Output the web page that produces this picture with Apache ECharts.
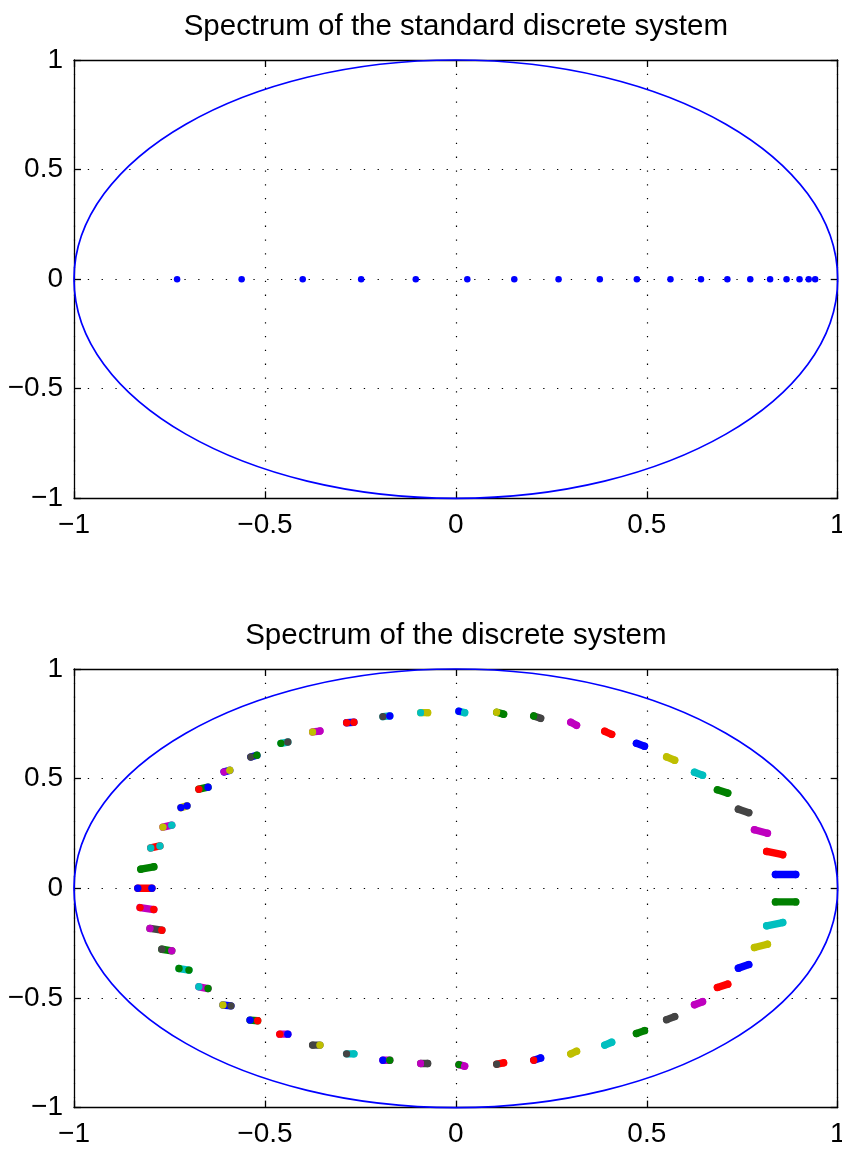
<!DOCTYPE html>
<html>
<head>
<meta charset="utf-8">
<title>Spectrum</title>
<script src="https://cdn.jsdelivr.net/npm/echarts@6.0.0/dist/echarts.min.js"></script>
<style>
    html, body {margin: 0; padding: 0; background: #fff;}
    #chart {width: 842px; height: 1150px;}
</style>
</head>
<body>
<div id="chart"></div>
<script>
//标准离散系统的特征值（全部为实数）
var standardRe = [-0.730, -0.561, -0.401, -0.248, -0.105, 0.030, 0.153, 0.269, 0.377, 0.474,
    0.562, 0.642, 0.711, 0.771, 0.823, 0.866, 0.900, 0.924, 0.941];
var standardIm = [0, 0, 0, 0, 0, 0, 0, 0, 0, 0, 0, 0, 0, 0, 0, 0, 0, 0, 0];

//离散系统：每一簇特征值的左端、右端
var clusterReStart = [-0.833, -0.825, -0.799, -0.767, -0.720, -0.673, -0.607, -0.537, -0.458, -0.375,
    -0.286, -0.191, -0.092, 0.008, 0.107, 0.204, 0.301, 0.390, 0.473, 0.552,
    0.625, 0.685, 0.740, 0.782, 0.814, 0.837,
    -0.827, -0.801, -0.770, -0.725, -0.673, -0.610, -0.539, -0.461, -0.375, -0.286,
    -0.191, -0.092, 0.008, 0.107, 0.204, 0.301, 0.390, 0.473, 0.552, 0.625,
    0.685, 0.740, 0.782, 0.814, 0.837];
var clusterReEnd = [-0.796, -0.791, -0.775, -0.744, -0.704, -0.649, -0.592, -0.521, -0.440, -0.356,
    -0.267, -0.173, -0.074, 0.023, 0.125, 0.222, 0.316, 0.408, 0.494, 0.573,
    0.646, 0.712, 0.767, 0.816, 0.856, 0.890,
    -0.791, -0.770, -0.744, -0.699, -0.649, -0.589, -0.519, -0.440, -0.356, -0.267,
    -0.173, -0.074, 0.023, 0.125, 0.222, 0.316, 0.408, 0.494, 0.573, 0.646,
    0.712, 0.767, 0.816, 0.856, 0.890];
var clusterImStart = [0, 0.087, 0.184, 0.279, 0.368, 0.452, 0.531, 0.599, 0.661, 0.713,
    0.755, 0.783, 0.801, 0.807, 0.803, 0.786, 0.757, 0.716, 0.661, 0.599,
    0.529, 0.449, 0.361, 0.267, 0.168, 0.063,
    -0.088, -0.183, -0.278, -0.366, -0.449, -0.532, -0.601, -0.665, -0.715, -0.755,
    -0.784, -0.799, -0.804, -0.802, -0.784, -0.755, -0.715, -0.662, -0.599, -0.531,
    -0.452, -0.364, -0.270, -0.171, -0.062];
var clusterImEnd = [0, 0.098, 0.193, 0.288, 0.376, 0.461, 0.538, 0.607, 0.667, 0.717,
    0.757, 0.786, 0.801, 0.801, 0.794, 0.775, 0.743, 0.702, 0.648, 0.584,
    0.516, 0.434, 0.345, 0.251, 0.153, 0.063,
    -0.097, -0.191, -0.285, -0.373, -0.457, -0.536, -0.604, -0.665, -0.715, -0.755,
    -0.784, -0.799, -0.811, -0.796, -0.774, -0.743, -0.702, -0.649, -0.585, -0.517,
    -0.437, -0.348, -0.255, -0.156, -0.062];
//每簇颜色：左端 / 中间 / 右端
var clusterColours = ['brb', 'ggg', 'crc', 'ymc', 'byb', 'rgb', 'mby', 'kbg', 'gck', 'ymm',
    'rbr', 'kcb', 'cyy', 'bcc', 'ygg', 'gkk', 'mmm', 'rrr', 'bbb', 'yyy',
    'ccc', 'ggg', 'kkk', 'mmm', 'rrr', 'bbb',
    'rmr', 'mkr', 'kgm', 'gcg', 'cmg', 'ybk', 'bgr', 'rmb', 'kky', 'kcc',
    'bmg', 'mkk', 'gmm', 'krr', 'rbb', 'yyy', 'ccc', 'ggg', 'kkk', 'mmm',
    'rrr', 'bbb', 'yyy', 'ccc', 'ggg'];

//单位圆：圆心实部、虚部、半径
var unitCircle = [[0, 0, 1]];
var ticks = [-1, -0.5, 0, 0.5, 1];

var matlabColours = {
    b: '#0000ff', g: '#008000', r: '#ff0000', c: '#00bfbf',
    m: '#bf00bf', y: '#bfbf00', k: '#444444'
};

function valueAxis(gridIndex, position, main) {
    return {
        type: 'value',
        gridIndex: gridIndex,
        position: position,
        min: ticks[0],
        max: ticks[ticks.length - 1],
        interval: ticks[1] - ticks[0],
        axisLine: {show: true, onZero: false, lineStyle: {color: '#000', width: 1.3}},
        axisTick: {show: true, inside: true, length: 7, lineStyle: {color: '#000', width: 1.3}},
        axisLabel: {
            show: main,
            fontFamily: 'Liberation Sans',
            fontSize: 28,
            color: '#000',
            margin: (position == 'bottom') ? 13 : 11,
            showMinLabel: true,
            showMaxLabel: true,
            formatter: function (v) {
                return String(v).replace('-', '\u2212');
            }
        },
        splitLine: {show: main, lineStyle: {color: '#000', width: 1.2, type: [1.3, 12.5]}}
    };
}

function renderCircle(params, api) {
    var c = api.coord([api.value(0), api.value(1)]);
    var s = api.size([api.value(2), api.value(2)]);
    return {
        type: 'ellipse',
        shape: {cx: c[0], cy: c[1], rx: s[0], ry: s[1]},
        style: {fill: 'none', stroke: '#0000ff', lineWidth: 1.7}
    };
}

function renderCluster(params, api) {
    var a = api.coord([api.value(0), api.value(1)]);
    var b = api.coord([api.value(2), api.value(3)]);
    var col = clusterColours[params.dataIndex];
    var r = 3.7;
    return {
        type: 'group',
        children: [
            {type: 'line', shape: {x1: a[0], y1: a[1], x2: b[0], y2: b[1]},
                style: {stroke: matlabColours[col[1]], lineWidth: 2 * r, lineCap: 'round'}},
            {type: 'circle', shape: {cx: a[0], cy: a[1], r: r}, style: {fill: matlabColours[col[0]]}},
            {type: 'circle', shape: {cx: b[0], cy: b[1], r: r}, style: {fill: matlabColours[col[2]]}}
        ]
    };
}

var standardData = standardRe.map(function (v, i) {
    return [v, standardIm[i]];
});
var clusterData = clusterReStart.map(function (v, i) {
    return [v, clusterImStart[i], clusterReEnd[i], clusterImEnd[i]];
});

var titleStyle = {fontFamily: 'Liberation Sans', fontSize: 29.5, fontWeight: 'normal', color: '#000'};

var chart = echarts.init(document.getElementById('chart'));
var option = {
    animation: false,
    backgroundColor: '#fff',
    title: [
        {text: 'Spectrum of the standard discrete system', left: 455.85, top: 12, textAlign: 'center', padding: 0, textStyle: titleStyle},
        {text: 'Spectrum of the discrete system', left: 455.85, top: 621, textAlign: 'center', padding: 0, textStyle: titleStyle}
    ],
    grid: [
        {left: 74, right: 4.3, top: 60, height: 438.3, outerBoundsMode: 'none'},
        {left: 74, right: 4.3, top: 669, height: 438.6, outerBoundsMode: 'none'}
    ],
    xAxis: [valueAxis(0, 'bottom', true), valueAxis(0, 'top', false), valueAxis(1, 'bottom', true), valueAxis(1, 'top', false)],
    yAxis: [valueAxis(0, 'left', true), valueAxis(0, 'right', false), valueAxis(1, 'left', true), valueAxis(1, 'right', false)],
    series: [
        {
            type: 'custom', xAxisIndex: 0, yAxisIndex: 0,
            renderItem: renderCircle, encode: {x: 0, y: 1}, data: unitCircle, silent: true
        },
        {
            type: 'scatter', xAxisIndex: 0, yAxisIndex: 0,
            symbol: 'circle', symbolSize: 6.5,
            itemStyle: {color: '#0000ff', opacity: 1},
            data: standardData
        },
        {
            type: 'custom', xAxisIndex: 2, yAxisIndex: 2,
            renderItem: renderCircle, encode: {x: 0, y: 1}, data: unitCircle, silent: true
        },
        {
            type: 'custom', xAxisIndex: 2, yAxisIndex: 2,
            renderItem: renderCluster, encode: {x: [0, 2], y: [1, 3]}, data: clusterData
        }
    ]
};
chart.setOption(option);
</script>
</body>
</html>
